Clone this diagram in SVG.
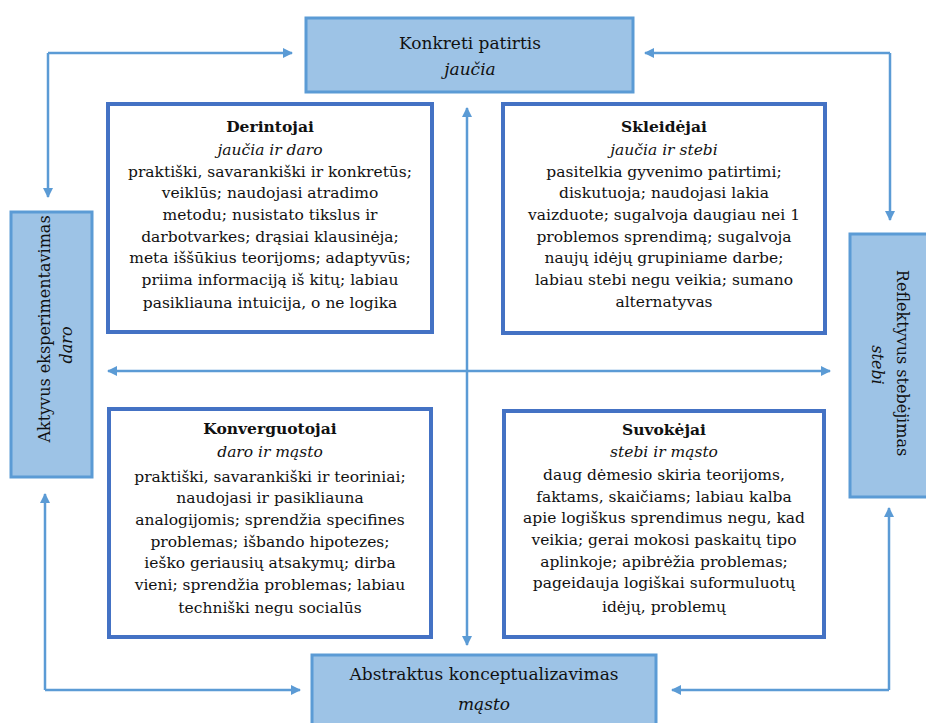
<svg xmlns="http://www.w3.org/2000/svg" width="926" height="723" viewBox="0 0 926 723">
<defs>
<marker id="ah" viewBox="0 0 10 10" refX="9" refY="5" markerWidth="4" markerHeight="4" orient="auto-start-reverse" markerUnits="strokeWidth">
<path d="M0,0 L10,5 L0,10 z" fill="#5b9bd5"/>
</marker>
<style>
.edge{fill:#9dc3e6;stroke:#5b9bd5;stroke-width:3}
.card{fill:#ffffff;stroke:#4472c4;stroke-width:4}
.lbl{font-family:"DejaVu Serif","Liberation Serif",serif;font-size:17px;fill:#111;text-anchor:middle}
.side{font-size:16px}
.it{font-style:italic}
.t{font-family:"DejaVu Serif","Liberation Serif",serif;font-size:15.5px;fill:#111;text-anchor:middle}
.b{font-weight:bold}
.con{fill:none;stroke:#5b9bd5;stroke-width:2.5;marker-end:url(#ah)}
.con2{fill:none;stroke:#5b9bd5;stroke-width:2.5;marker-start:url(#ah);marker-end:url(#ah)}
</style>
</defs>
<rect width="926" height="723" fill="#ffffff"/>

<g id="connectors">
<polyline class="con" points="48,53 292,53"/>
<polyline class="con" points="48,53 48,197"/>
<polyline class="con" points="890,53 645,53"/>
<polyline class="con" points="890,53 890,220"/>
<polyline class="con" points="45,690 45,494"/>
<polyline class="con" points="45,690 300,690"/>
<polyline class="con" points="889,690 889,508"/>
<polyline class="con" points="889,690 672,690"/>
<line class="con2" x1="108" y1="371" x2="830" y2="371"/>
<line class="con2" x1="467" y1="108" x2="467" y2="645"/>
</g>

<g id="konkreti-patirtis">
<rect class="edge" x="306" y="18" width="327" height="74"/>
<text class="lbl" x="470" y="49">Konkreti patirtis</text>
<text class="lbl it" x="470" y="75">jaučia</text>
</g>

<g id="abstraktus-konceptualizavimas">
<rect class="edge" x="312" y="655" width="344" height="80"/>
<text class="lbl" x="484" y="680">Abstraktus konceptualizavimas</text>
<text class="lbl it" x="484" y="710">mąsto</text>
</g>

<g id="aktyvus-eksperimentavimas">
<rect class="edge" x="11" y="212" width="81" height="265"/>
<text class="lbl side" transform="translate(50,329) rotate(-90)">Aktyvus eksperimentavimas</text>
<text class="lbl side it" transform="translate(72,345) rotate(-90)">daro</text>
</g>

<g id="reflektyvus-stebejimas">
<rect class="edge" x="850" y="234" width="90" height="263"/>
<text class="lbl side" transform="translate(897,363) rotate(90)">Reflektyvus stebėjimas</text>
<text class="lbl side it" transform="translate(872,365) rotate(90)">stebi</text>
</g>

<g id="derintojai">
<rect class="card" x="108" y="104" width="324" height="228"/>
<text class="t b" x="270" y="132">Derintojai</text>
<text class="t it" x="270" y="155">jaučia ir daro</text>
<text class="t" x="270" y="177">praktiški, savarankiški ir konkretūs;</text>
<text class="t" x="270" y="198">veiklūs; naudojasi atradimo</text>
<text class="t" x="270" y="220">metodu; nusistato tikslus ir</text>
<text class="t" x="270" y="242">darbotvarkes; drąsiai klausinėja;</text>
<text class="t" x="270" y="263">meta iššūkius teorijoms; adaptyvūs;</text>
<text class="t" x="270" y="285">priima informaciją iš kitų; labiau</text>
<text class="t" x="270" y="308">pasikliauna intuicija, o ne logika</text>
</g>

<g id="skleidejai">
<rect class="card" x="503" y="104" width="322" height="229"/>
<text class="t b" x="664" y="132">Skleidėjai</text>
<text class="t it" x="664" y="155">jaučia ir stebi</text>
<text class="t" x="664" y="177">pasitelkia gyvenimo patirtimi;</text>
<text class="t" x="664" y="198">diskutuoja; naudojasi lakia</text>
<text class="t" x="664" y="220">vaizduote; sugalvoja daugiau nei 1</text>
<text class="t" x="664" y="242">problemos sprendimą; sugalvoja</text>
<text class="t" x="664" y="263">naujų idėjų grupiniame darbe;</text>
<text class="t" x="664" y="285">labiau stebi negu veikia; sumano</text>
<text class="t" x="664" y="307">alternatyvas</text>
</g>

<g id="konverguotojai">
<rect class="card" x="109" y="409" width="322" height="228"/>
<text class="t b" x="270" y="434">Konverguotojai</text>
<text class="t it" x="270" y="457">daro ir mąsto</text>
<text class="t" x="270" y="482">praktiški, savarankiški ir teoriniai;</text>
<text class="t" x="270" y="503">naudojasi ir pasikliauna</text>
<text class="t" x="270" y="525">analogijomis; sprendžia specifines</text>
<text class="t" x="270" y="547">problemas; išbando hipotezes;</text>
<text class="t" x="270" y="568">ieško geriausių atsakymų; dirba</text>
<text class="t" x="270" y="590">vieni; sprendžia problemas; labiau</text>
<text class="t" x="270" y="613">techniški negu socialūs</text>
</g>

<g id="suvokejai">
<rect class="card" x="504" y="411" width="320" height="226"/>
<text class="t b" x="664" y="435">Suvokėjai</text>
<text class="t it" x="664" y="457">stebi ir mąsto</text>
<text class="t" x="664" y="480">daug dėmesio skiria teorijoms,</text>
<text class="t" x="664" y="502">faktams, skaičiams; labiau kalba</text>
<text class="t" x="664" y="523">apie logiškus sprendimus negu, kad</text>
<text class="t" x="664" y="545">veikia; gerai mokosi paskaitų tipo</text>
<text class="t" x="664" y="567">aplinkoje; apibrėžia problemas;</text>
<text class="t" x="664" y="588">pageidauja logiškai suformuluotų</text>
<text class="t" x="664" y="612">idėjų, problemų</text>
</g>
</svg>
